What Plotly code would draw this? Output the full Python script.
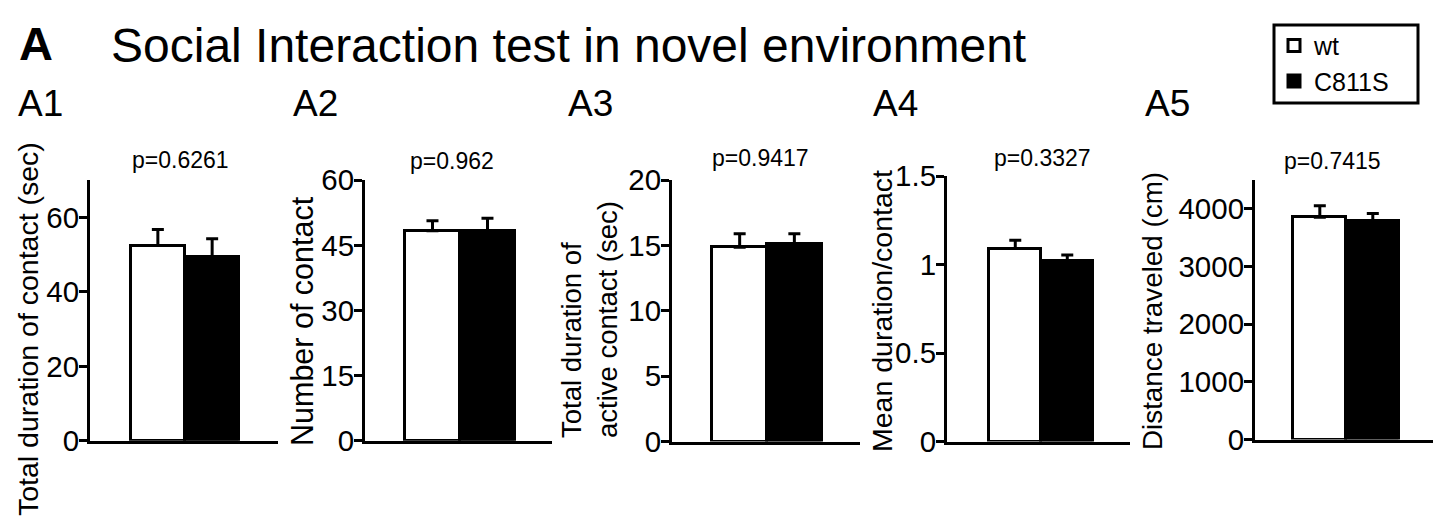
import plotly.graph_objects as go

W, H = 1435, 525

# ---- data ----
panels = ["A1", "A2", "A3", "A4", "A5"]
groups = ["wt", "C811S"]
y_titles = ["Total duration of contact (sec)", "Number of contact",
            "Total duration of<br>active contact (sec)", "Mean duration/contact",
            "Distance traveled (cm)"]
wt_mean = [52.4, 48.3, 14.86, 1.09, 3855]
wt_sem = [4.3, 2.3, 1.02, 0.047, 197]
c811s_mean = [49.3, 48.3, 15.09, 1.019, 3793]
c811s_sem = [4.9, 2.9, 0.79, 0.034, 126]
p_values = ["p=0.6261", "p=0.962", "p=0.9417", "p=0.3327", "p=0.7415"]
y_max = [70, 60, 20, 1.5, 4500]
y_ticks = [[0, 20, 40, 60], [0, 15, 30, 45, 60], [0, 5, 10, 15, 20],
           [0, 0.5, 1, 1.5], [0, 1000, 2000, 3000, 4000]]

# ---- layout (pixels) ----
dom_px = [  # x0, x1, y_bottom, y_top
    (90, 278, 440.7, 180),
    (365, 552, 440.7, 180),
    (672, 860, 441.5, 180),
    (947, 1130, 441.5, 176),
    (1255, 1433, 439.5, 180),
]
x_ranges = [(-1.25, 2.213), (-1.227, 2.173), (-1.237, 2.2), (-1.313, 2.206), (-1.223, 2.136)]
ytitle_pos = [(28, 329), (302, 321), (589, 320), (882, 311), (1152, 311)]
ytitle_size = [28.5, 30.5, 27.5, 28.5, 27.8]
label_x = [16, 291, 566, 871, 1143]
p_pos = [(180, 160), (452, 161), (760, 158), (1042, 158), (1332, 161)]

FONT = "Liberation Sans, Arial, Helvetica, sans-serif"

def px_x(v):
    return v / W

def px_y(v):
    return 1 - v / H

fig = go.Figure()
annotations = []

for i in range(5):
    xa = "x" if i == 0 else f"x{i+1}"
    ya = "y" if i == 0 else f"y{i+1}"
    for j, (name, mean, sem, color) in enumerate([
        (groups[0], wt_mean, wt_sem, "white"),
        (groups[1], c811s_mean, c811s_sem, "black"),
    ]):
        fig.add_trace(go.Bar(
            x=[j], y=[mean[i]], width=[1], name=name,
            marker=dict(color=color, line=dict(color="black", width=3)),
            error_y=dict(type="data", symmetric=False, array=[sem[i]], arrayminus=[0],
                         color="black", thickness=3, width=6),
            xaxis=xa, yaxis=ya, showlegend=(i == 0), legendgroup=name,
        ))
    x0, x1, yb, yt = dom_px[i]
    xkey = "xaxis" if i == 0 else f"xaxis{i+1}"
    ykey = "yaxis" if i == 0 else f"yaxis{i+1}"
    fig.layout[xkey] = dict(
        domain=[px_x(x0), px_x(x1)], range=list(x_ranges[i]), anchor=ya,
        showline=True, linecolor="black", linewidth=3, showticklabels=False,
        ticks="", showgrid=False, zeroline=False, fixedrange=True,
    )
    fig.layout[ykey] = dict(
        domain=[px_y(yb), px_y(yt)], range=[0, y_max[i]], anchor=xa,
        showline=True, linecolor="black", linewidth=3, tickvals=y_ticks[i],
        ticks="outside", ticklen=8, tickwidth=3, tickcolor="black",
        ticklabelstandoff=-6,
        tickfont=dict(size=29.5, color="black", family=FONT),
        showgrid=False, zeroline=False, fixedrange=True,
    )
    tx, ty = ytitle_pos[i]
    annotations.append(dict(text=y_titles[i], x=px_x(tx), y=px_y(ty), xref="paper", yref="paper",
                            textangle=-90, showarrow=False, xanchor="center", yanchor="middle",
                            align="left",
                            font=dict(size=ytitle_size[i], color="black", family=FONT)))
    annotations.append(dict(text=panels[i], x=px_x(label_x[i]), y=px_y(103), xref="paper", yref="paper",
                            showarrow=False, xanchor="left", yanchor="middle",
                            font=dict(size=37, color="black", family=FONT)))
    px_, py_ = p_pos[i]
    annotations.append(dict(text=p_values[i], x=px_x(px_), y=px_y(py_), xref="paper", yref="paper",
                            showarrow=False, xanchor="center", yanchor="middle",
                            font=dict(size=23, color="black", family=FONT)))

annotations.append(dict(text="<b>A</b>", x=px_x(17), y=px_y(44), xref="paper", yref="paper",
                        showarrow=False, xanchor="left", yanchor="middle",
                        font=dict(size=47, color="black", family=FONT)))
annotations.append(dict(text="Social Interaction test in novel environment", x=px_x(109), y=px_y(46),
                        xref="paper", yref="paper", showarrow=False, xanchor="left", yanchor="middle",
                        font=dict(size=48, color="black", family=FONT)))

fig.update_layout(
    width=W, height=H, margin=dict(l=0, r=0, t=0, b=0, pad=0, autoexpand=False),
    paper_bgcolor="white", plot_bgcolor="white",
    barmode="overlay", bargap=0,
    annotations=annotations,
    showlegend=True,
    legend=dict(x=px_x(1274), y=px_y(22.75), xanchor="left", yanchor="top",
                borderwidth=0, bgcolor="rgba(0,0,0,0)", tracegroupgap=0,
                font=dict(size=25, color="black", family=FONT),
                traceorder="normal", itemwidth=30),
    shapes=[dict(type="rect", xref="paper", yref="paper",
                 x0=px_x(1274), x1=px_x(1418), y0=px_y(103), y1=px_y(25),
                 line=dict(color="black", width=3), fillcolor="rgba(0,0,0,0)", layer="above")],
)

fig.write_html("out.html")
